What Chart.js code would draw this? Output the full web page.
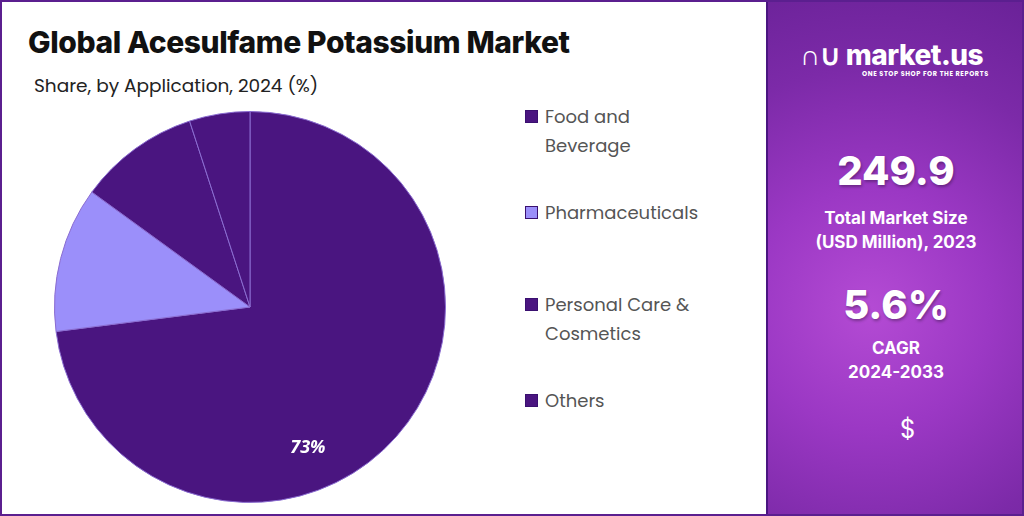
<!DOCTYPE html>
<html>
<head>
<meta charset="utf-8">
<script src="https://cdn.jsdelivr.net/npm/chart.js"></script>
<style>
  html, body { margin: 0; padding: 0; }
  body { width: 1024px; height: 516px; position: relative; overflow: hidden; font-family: Poppins, "Open Sans", sans-serif; background: #fff; }
  .frame { position: absolute; left: 0; top: 0; width: 1020px; height: 512px; border: 2px solid #5b1f8f; }
  .left { position: absolute; left: 2px; top: 2px; width: 762px; height: 512px; background: #fff; }
  h1 { position: absolute; left: 26px; top: 22px; margin: 0; font-family: Inter, sans-serif; font-size: 30px; font-weight: 800; color: #111; letter-spacing: -0.4px; }
  .sub { position: absolute; left: 32px; top: 70px; font-size: 18.5px; color: #222; }
  #wrap { position: absolute; left: 52px; top: 109px; width: 392px; height: 392px; }
  .legend { position: absolute; left: 523px; top: 100px; }
  .item { position: absolute; left: 0; white-space: nowrap; font-size: 18px; line-height: 29px; color: #555; }
  .item i { position: absolute; left: 0; top: 8px; width: 13px; height: 13px; border: 1px solid #3a1070; box-sizing: border-box; }
  .item span { display: block; padding-left: 20px; }
  .right { position: absolute; left: 766px; top: 2px; width: 256px; height: 512px; color: #fff; text-align: center;
    background: radial-gradient(circle at 40% 60%, #b44bd4 0%, #9b38c4 35%, #7c2aa8 70%, #6a2298 100%); border-left: 2px solid #4a1580; }
  .logo { position: absolute; left: 32px; top: 36px; font-family: Inter, sans-serif; font-weight: 800; font-size: 28px; letter-spacing: -0.5px; }
  .tag { position: absolute; left: 94px; top: 67px; font-size: 6.5px; font-weight: 700; letter-spacing: 0.6px; }
  .big { position: absolute; left: 0; width: 100%; font-family: Inter, sans-serif; font-weight: 800; font-size: 40px; text-shadow: 1px 2px 3px rgba(0,0,0,0.3); }
  .lab { position: absolute; left: 0; width: 100%; font-family: Inter, sans-serif; font-weight: 700; font-size: 17px; line-height: 24px; }
</style>
</head>
<body>
<div class="left">
  <h1>Global Acesulfame Potassium Market</h1>
  <div class="sub">Share, by Application, 2024 (%)</div>
  <div id="wrap"><canvas id="pieChart"></canvas></div>
  <div class="legend" id="legend"></div>
</div>
<div class="right">
  <div class="logo">&#8745;&#8746; market.us</div>
  <div class="tag">ONE STOP SHOP FOR THE REPORTS</div>
  <div class="big" style="top:144px">249.9</div>
  <div class="lab" style="top:204px">Total Market Size<br>(USD Million), 2023</div>
  <div class="big" style="top:278px">5.6%</div>
  <div class="lab" style="top:334px">CAGR<br>2024-2033</div>
  <div style="position:absolute;left:132px;top:408px;font-size:26px;">$</div>
</div>
<div class="frame"></div>
<script>
// chart data
const categories = ['Food and Beverage', 'Pharmaceuticals', 'Personal Care & Cosmetics', 'Others'];
const legendLines = [['Food and', 'Beverage'], ['Pharmaceuticals'], ['Personal Care &', 'Cosmetics'], ['Others']];
const shares = [73, 12, 10, 5];
const sliceColors = ['#4a1580', '#9b8ffa', '#4a1580', '#4a1580'];
const shownLabels = ['73%', '', '', ''];

const legendTops = [0, 96, 188, 284];

// legend built by hand to match the multi-line layout
const legend = document.getElementById('legend');
categories.forEach((c, i) => {
    const d = document.createElement('div');
    d.className = 'item';
    d.style.top = legendTops[i] + 'px';
    d.innerHTML = '<i style="background:' + sliceColors[i] + '"></i><span>' + legendLines[i].join('<br>') + '</span>';
    legend.appendChild(d);
});

// draws the percentage text inside the big slice
const sliceLabels = {
    id: 'sliceLabels',
    afterDatasetsDraw(chart) {
        const ctx = chart.ctx;
        chart.getDatasetMeta(0).data.forEach((arc, i) => {
            if (!shownLabels[i]) return;
            const a = arc.startAngle + (arc.endAngle - arc.startAngle) * 0.6;
            const r = arc.outerRadius * 0.78;
            ctx.save();
            ctx.fillStyle = '#fff';
            ctx.font = 'italic bold 18px "Open Sans", sans-serif';
            ctx.textAlign = 'center';
            ctx.textBaseline = 'middle';
            ctx.fillText(shownLabels[i], arc.x + Math.cos(a) * r, arc.y + Math.sin(a) * r);
            ctx.restore();
        });
    }
};

new Chart(document.getElementById('pieChart').getContext('2d'), {
    type: 'pie',
    data: {
        labels: categories,
        datasets: [{
            data: shares,
            backgroundColor: sliceColors,
            borderColor: '#8a6cd0',
            borderWidth: 1
        }]
    },
    options: {
        responsive: true,
        maintainAspectRatio: false,
        animation: false,
        layout: { padding: 0 },
        plugins: {
            legend: { display: false },
            tooltip: { enabled: false }
        }
    },
    plugins: [sliceLabels]
});
</script>
</body>
</html>
